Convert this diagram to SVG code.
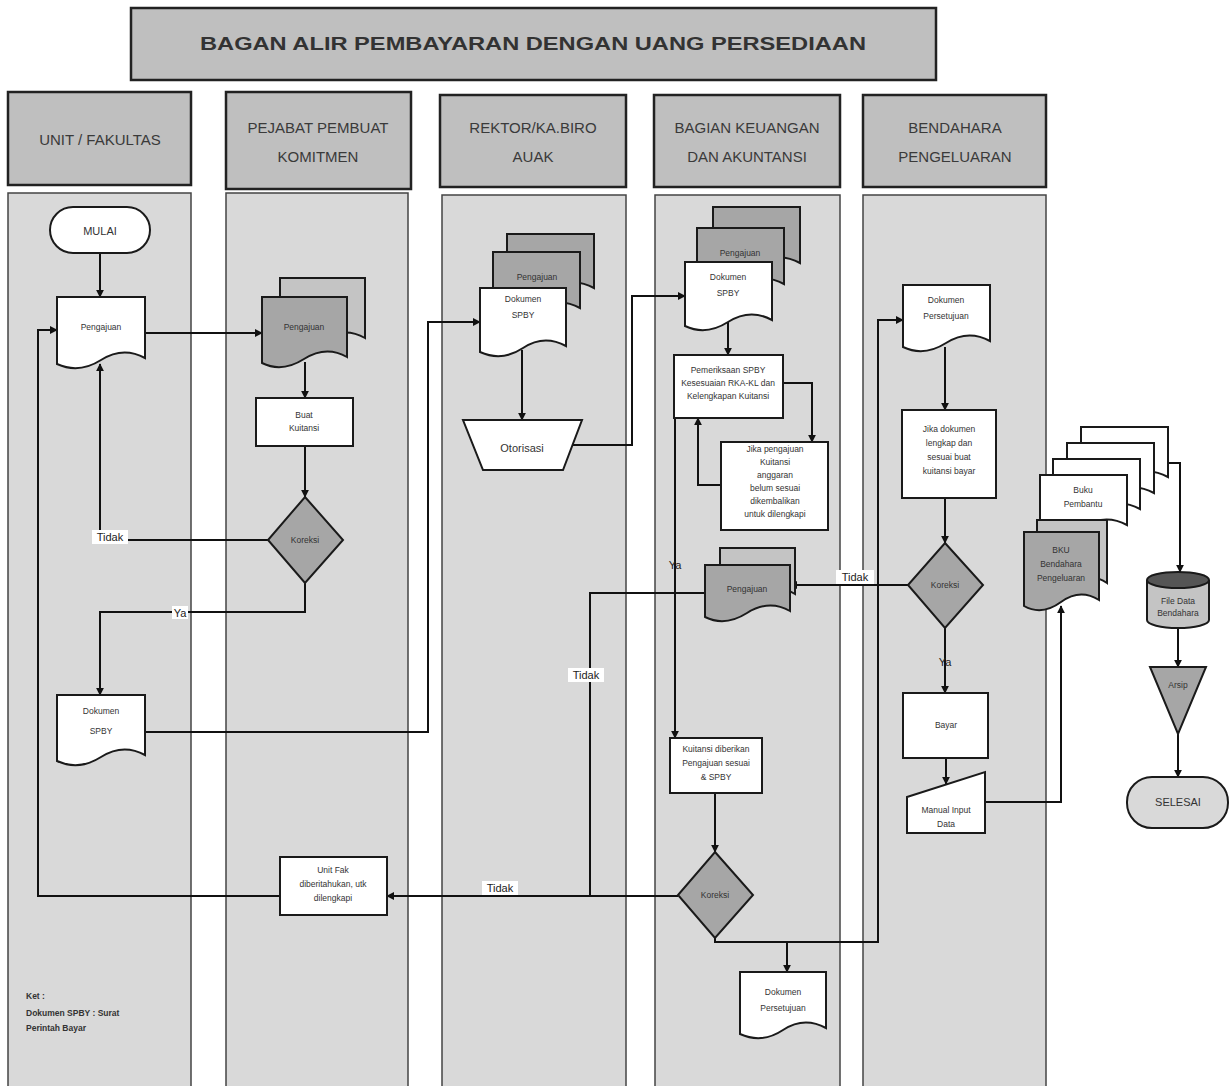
<svg xmlns="http://www.w3.org/2000/svg" width="1231" height="1086" viewBox="0 0 1231 1086">
<style>
.lane{fill:#d9d9d9;stroke:#444;stroke-width:1.5}
.hdr{fill:#bfbfbf;stroke:#222;stroke-width:2.5}
.w{fill:#fff;stroke:#1a1a1a;stroke-width:2}
.g{fill:#a6a6a6;stroke:#1a1a1a;stroke-width:2}
.lg{fill:#c4c4c4;stroke:#1a1a1a;stroke-width:2}
.c path{fill:none;stroke:#111;stroke-width:2}
.a{marker-end:url(#ah)}
text{font-family:"Liberation Sans",Arial,sans-serif;fill:#333;text-anchor:middle}
.h{font-size:15px;fill:#3a3a3a}
.t{font-size:8.5px}
.m{font-size:11px}
.lbl{font-size:11px;fill:#222}
.bg{fill:#fff}
</style>
<defs>
<marker id="ah" viewBox="0 0 10 10" refX="9" refY="5" markerWidth="4" markerHeight="4" orient="auto"><path d="M0,0 L10,5 L0,10 z" fill="#111"/></marker>
</defs>
<rect width="1231" height="1086" fill="#fff"/>
<g id="title"><rect x="131" y="8" width="805" height="72" class="hdr"/><text x="533" y="50" font-size="18" font-weight="bold" textLength="666" lengthAdjust="spacingAndGlyphs" fill="#2a2a2a">BAGAN ALIR PEMBAYARAN DENGAN UANG PERSEDIAAN</text></g>
<g id="lanes">
<rect x="8" y="193" width="183" height="900" class="lane"/>
<rect x="226" y="193" width="182" height="900" class="lane"/>
<rect x="442" y="195" width="184" height="900" class="lane"/>
<rect x="655" y="195" width="185" height="900" class="lane"/>
<rect x="863" y="195" width="183" height="900" class="lane"/>
<rect x="8" y="92" width="183" height="93" class="hdr"/>
<rect x="226" y="92" width="185" height="97" class="hdr"/>
<rect x="440" y="95" width="186" height="92" class="hdr"/>
<rect x="654" y="95" width="186" height="92" class="hdr"/>
<rect x="863" y="95" width="183" height="92" class="hdr"/>
<text class="h" x="100" y="145">UNIT / FAKULTAS</text>
<text class="h" x="318" y="133">PEJABAT PEMBUAT</text><text class="h" x="318" y="162">KOMITMEN</text>
<text class="h" x="533" y="133">REKTOR/KA.BIRO</text><text class="h" x="533" y="162">AUAK</text>
<text class="h" x="747" y="133">BAGIAN KEUANGAN</text><text class="h" x="747" y="162">DAN AKUNTANSI</text>
<text class="h" x="955" y="133">BENDAHARA</text><text class="h" x="955" y="162">PENGELUARAN</text>
</g>
<g class="c" id="connectors">
<path class="a" d="M100,253 V297"/>
<path class="a" d="M145,333 H262"/>
<path class="a" d="M305,362 V398"/>
<path class="a" d="M305,446 V497"/>
<path class="a" d="M268,540 H100 V364"/>
<path class="a" d="M305,583 V612 H100 V695"/>
<path class="a" d="M145,732 H428 V322 H480"/>
<path class="a" d="M522,350 V420"/>
<path class="a" d="M572,445 H632 V296 H685"/>
<path class="a" d="M728,322 V355"/>
<path class="a" d="M783,383 H812 V442"/>
<path class="a" d="M721,485 H698 V418"/>
<path class="a" d="M675,418 V738"/>
<path class="a" d="M715,793 V852"/>
<path class="a" d="M678,896 H387"/>
<path class="a" d="M280,896 H38 V330 H57"/>
<path d="M705,593 H590 V896"/>
<path class="a" d="M715,938 V942 H787 V972"/>
<path class="a" d="M787,942 H878 V320 H903"/>
<path class="a" d="M945,347 V410"/>
<path class="a" d="M945,498 V543"/>
<path class="a" d="M908,585 H790"/>
<path class="a" d="M945,628 V693"/>
<path class="a" d="M946,758 V784"/>
<path class="a" d="M985,802 H1061 V606"/>
<path class="a" d="M1168,463 H1180 V572"/>
<path class="a" d="M1178,628 V667"/>
<path class="a" d="M1178,734 V777"/>
</g>
<g id="labels">
<rect x="92" y="530" width="36" height="14" class="bg"/><text class="lbl" x="110" y="541">Tidak</text>
<rect x="172" y="606" width="16" height="13" class="bg"/><text class="lbl" x="180" y="617">Ya</text>
<text class="lbl" x="675" y="569">Ya</text>
<rect x="836" y="570" width="38" height="14" class="bg"/><text class="lbl" x="855" y="581">Tidak</text>
<rect x="568" y="668" width="36" height="14" class="bg"/><text class="lbl" x="586" y="679">Tidak</text>
<rect x="482" y="881" width="36" height="14" class="bg"/><text class="lbl" x="500" y="892">Tidak</text>
<text class="lbl" x="945" y="666">Ya</text>
</g>
<g id="mulai"><rect x="50" y="207" width="100" height="46" rx="23" class="w"/><text class="m" x="100" y="235">MULAI</text></g>
<g id="pengajuan-unit"><path class="w" d="M57,297 H145 V358 Q123,346 101,360 T57,364 Z"/><text class="t" x="101" y="330">Pengajuan</text></g>
<g id="pengajuan-ppk"><path class="lg" d="M280,278 H365 V338 Q344,326 322,340 T280,344 Z"/><path class="g" d="M262,297 H347 V357 Q326,345 304,359 T262,363 Z"/><text class="t" x="304" y="330">Pengajuan</text></g>
<g id="buat-kuitansi"><rect x="256" y="398" width="97" height="48" class="w"/><text class="t" x="304" y="418">Buat</text><text class="t" x="304" y="431">Kuitansi</text></g>
<g id="koreksi-ppk"><path class="g" d="M305,497 L343,540 L305,583 L268,540 Z"/><text class="t" x="305" y="543">Koreksi</text></g>
<g id="spby-unit"><path class="w" d="M57,695 H145 V755 Q123,743 101,757 T57,761 Z"/><text class="t" x="101" y="714">Dokumen</text><text class="t" x="101" y="734">SPBY</text></g>
<g id="spby-rektor"><path class="g" d="M507,234 H594 V288 Q572,276 550,290 T507,294 Z"/><path class="g" d="M493,252 H580 V308 Q558,296 536,310 T493,314 Z"/><text class="t" x="537" y="280">Pengajuan</text><path class="w" d="M480,288 H566 V346 Q544,334 523,348 T480,352 Z"/><text class="t" x="523" y="302">Dokumen</text><text class="t" x="523" y="318">SPBY</text></g>
<g id="otorisasi"><path class="w" d="M463,420 H582 L563,470 H483 Z"/><text class="m" x="522" y="452">Otorisasi</text></g>
<g id="spby-keu"><path class="g" d="M713,207 H800 V263 Q778,251 756,265 T713,269 Z"/><path class="g" d="M697,228 H784 V284 Q762,272 740,286 T697,290 Z"/><text class="t" x="740" y="256">Pengajuan</text><path class="w" d="M685,262 H772 V320 Q750,308 728,322 T685,326 Z"/><text class="t" x="728" y="280">Dokumen</text><text class="t" x="728" y="296">SPBY</text></g>
<g id="pemeriksaan"><rect x="674" y="355" width="109" height="63" class="w"/><text class="t" x="728" y="373">Pemeriksaan SPBY</text><text class="t" x="728" y="386">Kesesuaian RKA-KL dan</text><text class="t" x="728" y="399">Kelengkapan Kuitansi</text></g>
<g id="jika-belum"><rect x="721" y="442" width="107" height="88" class="w"/><text class="t" x="775" y="452">Jika pengajuan</text><text class="t" x="775" y="465">Kuitansi</text><text class="t" x="775" y="478">anggaran</text><text class="t" x="775" y="491">belum sesuai</text><text class="t" x="775" y="504">dikembalikan</text><text class="t" x="775" y="517">untuk dilengkapi</text></g>
<g id="pengajuan-keu"><path class="lg" d="M720,548 H795 V594 Q776,582 757,596 T720,600 Z"/><path class="g" d="M705,565 H790 V611 Q769,599 747,613 T705,617 Z"/><text class="t" x="747" y="592">Pengajuan</text></g>
<g id="kuitansi-keu"><rect x="670" y="738" width="92" height="55" class="w"/><text class="t" x="716" y="752">Kuitansi diberikan</text><text class="t" x="716" y="766">Pengajuan sesuai</text><text class="t" x="716" y="780">&amp; SPBY</text></g>
<g id="koreksi-keu"><path class="g" d="M715,852 L753,895 L715,938 L678,895 Z"/><text class="t" x="715" y="898">Koreksi</text></g>
<g id="unit-diberitahu"><rect x="280" y="857" width="107" height="58" class="w"/><text class="t" x="333" y="873">Unit Fak</text><text class="t" x="333" y="887">diberitahukan, utk</text><text class="t" x="333" y="901">dilengkapi</text></g>
<g id="persetujuan-keu"><path class="w" d="M740,972 H826 V1028 Q804,1016 783,1030 T740,1034 Z"/><text class="t" x="783" y="995">Dokumen</text><text class="t" x="783" y="1011">Persetujuan</text></g>
<g id="persetujuan-bend"><path class="w" d="M903,285 H990 V341 Q968,329 946,343 T903,347 Z"/><text class="t" x="946" y="303">Dokumen</text><text class="t" x="946" y="319">Persetujuan</text></g>
<g id="jika-lengkap"><rect x="902" y="410" width="94" height="88" class="w"/><text class="t" x="949" y="432">Jika dokumen</text><text class="t" x="949" y="446">lengkap dan</text><text class="t" x="949" y="460">sesuai buat</text><text class="t" x="949" y="474">kuitansi bayar</text></g>
<g id="koreksi-bend"><path class="g" d="M945,543 L983,585 L945,628 L908,585 Z"/><text class="t" x="945" y="588">Koreksi</text></g>
<g id="bayar"><rect x="903" y="693" width="85" height="65" class="w"/><text class="t" x="946" y="728">Bayar</text></g>
<g id="manual-input"><path class="w" d="M907,797 L985,772 V833 H907 Z"/><text class="t" x="946" y="813">Manual Input</text><text class="t" x="946" y="827">Data</text></g>
<g id="buku-pembantu"><path class="w" d="M1081,427 H1168 V477 Q1146,465 1124,479 T1081,483 Z"/><path class="w" d="M1067,443 H1154 V493 Q1132,481 1110,495 T1067,499 Z"/><path class="w" d="M1053,459 H1140 V509 Q1118,497 1096,511 T1053,515 Z"/><path class="w" d="M1040,475 H1127 V525 Q1105,513 1083,527 T1040,531 Z"/><text class="t" x="1083" y="493">Buku</text><text class="t" x="1083" y="507">Pembantu</text></g>
<g id="bku"><path class="lg" d="M1037,520 H1107 V583 Q1090,571 1072,585 T1037,589 Z"/><path class="g" d="M1024,532 H1099 V600 Q1080,588 1061,602 T1024,606 Z"/><text class="t" x="1061" y="553">BKU</text><text class="t" x="1061" y="567">Bendahara</text><text class="t" x="1061" y="581">Pengeluaran</text></g>
<g id="file-data"><path class="lg" d="M1147,580 V620 A31,8 0 0 0 1209,620 V580"/><ellipse cx="1178" cy="580" rx="31" ry="8" fill="#555" stroke="#1a1a1a" stroke-width="2"/><text class="t" x="1178" y="604">File Data</text><text class="t" x="1178" y="616">Bendahara</text></g>
<g id="arsip"><path class="g" d="M1150,667 H1206 L1178,734 Z"/><text class="t" x="1178" y="688">Arsip</text></g>
<g id="selesai"><rect x="1127" y="777" width="101" height="51" rx="25" fill="#d9d9d9" stroke="#1a1a1a" stroke-width="2"/><text class="m" x="1178" y="806">SELESAI</text></g>
<g id="ket"><text class="t" x="26" y="999" font-weight="bold" style="text-anchor:start">Ket :</text><text class="t" x="26" y="1016" font-weight="bold" style="text-anchor:start">Dokumen SPBY : Surat</text><text class="t" x="26" y="1031" font-weight="bold" style="text-anchor:start">Perintah Bayar</text></g>
</svg>
